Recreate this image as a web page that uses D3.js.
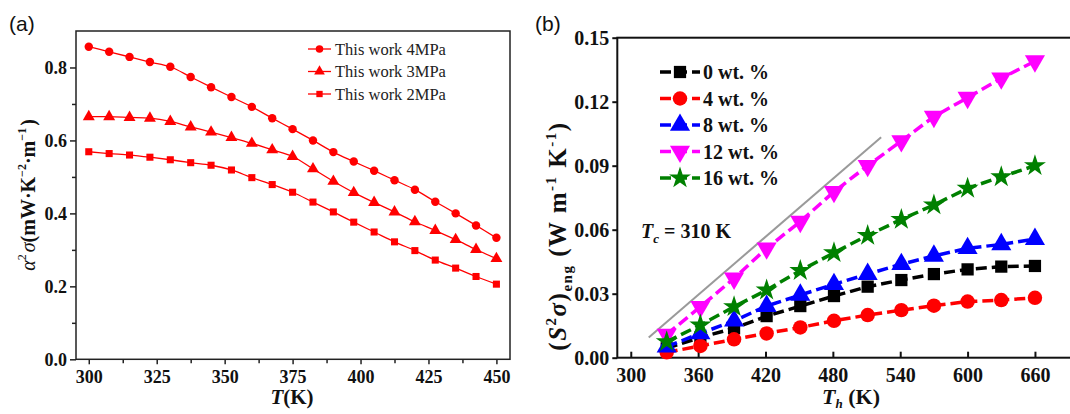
<!DOCTYPE html>
<html>
<head>
<meta charset="utf-8">
<script src="https://cdn.jsdelivr.net/npm/d3@7"></script>
<style>
  html, body { margin: 0; padding: 0; background: #fff; }
  svg { display: block; }
  svg text { font-family: "Liberation Serif", "Times New Roman", "DejaVu Serif", serif; }
  svg text.sans { font-family: "Liberation Sans", Arial, sans-serif; }
</style>
</head>
<body>
<svg id="chart" width="1070" height="414"></svg>
<script>
// ---------- panel (a): power factor vs temperature ----------
const aTemps = [300, 307.5, 315, 322.5, 330, 337.5, 345, 352.5, 360, 367.5, 375,
                382.5, 390, 397.5, 405, 412.5, 420, 427.5, 435, 442.5, 450];
const aPF4 = [0.857, 0.843, 0.829, 0.815, 0.802, 0.774, 0.746, 0.719, 0.692, 0.661, 0.631,
              0.600, 0.568, 0.542, 0.517, 0.491, 0.465, 0.432, 0.400, 0.367, 0.333];
const aPF3 = [0.665, 0.665, 0.663, 0.661, 0.652, 0.637, 0.623, 0.608, 0.592, 0.574, 0.556,
              0.522, 0.488, 0.457, 0.430, 0.404, 0.377, 0.353, 0.328, 0.301, 0.276];
const aPF2 = [0.569, 0.564, 0.560, 0.554, 0.547, 0.539, 0.532, 0.519, 0.498, 0.479, 0.458,
              0.431, 0.404, 0.376, 0.349, 0.322, 0.298, 0.272, 0.250, 0.227, 0.206];
const aNames = ["This work 4MPa", "This work 3MPa", "This work 2MPa"];
const aXTicks = [300, 325, 350, 375, 400, 425, 450];
const aYTicks = [0.0, 0.2, 0.4, 0.6, 0.8];

// ---------- panel (b): engineering power factor vs hot-side temperature ----------
const bTemps = [332, 362, 392, 421, 451, 481, 511, 541, 570, 600, 630, 660];
const b0  = [0.0044, 0.0095, 0.0138, 0.0195, 0.0242, 0.0289, 0.0333, 0.0364, 0.0392, 0.0414, 0.0427, 0.0430];
const b4  = [0.0025, 0.0055, 0.0086, 0.0114, 0.0142, 0.0173, 0.0200, 0.0223, 0.0244, 0.0263, 0.0270, 0.0281];
const b8  = [0.0052, 0.0114, 0.0173, 0.0242, 0.0294, 0.0344, 0.0392, 0.0438, 0.0477, 0.0513, 0.0531, 0.0556];
const b12 = [0.0109, 0.0239, 0.0372, 0.0513, 0.0638, 0.0778, 0.0900, 0.1016, 0.1130, 0.1219, 0.1310, 0.1390];
const b16 = [0.0075, 0.0153, 0.0239, 0.0317, 0.0408, 0.0492, 0.0573, 0.0648, 0.0716, 0.0794, 0.0848, 0.0900];
const bNames = ["0 wt. %", "4 wt. %", "8 wt. %", "12 wt. %", "16 wt. %"];
const bXTicks = [300, 360, 420, 480, 540, 600, 660];
const bYTicks = [0.00, 0.03, 0.06, 0.09, 0.12, 0.15];
const bGuideT = [316, 523];
const bGuideV = [0.0095, 0.1033];

const svg = d3.select("#chart");

// ================= panel (a) =================
const ax = d3.scaleLinear().domain([295.3, 455]).range([76, 510]);
const ay = d3.scaleLinear().domain([0, 0.9]).range([359.3, 31]);
const gA = svg.append("g");

// frame
gA.append("rect").attr("x", 76).attr("y", 31).attr("width", 434).attr("height", 328.3)
  .attr("fill", "none").attr("stroke", "#222").attr("stroke-width", 1.5);

// minor ticks
gA.append("g").attr("transform", "translate(0,359.3)")
  .call(d3.axisBottom(ax).tickValues([312.5, 337.5, 362.5, 387.5, 412.5, 437.5]).tickSize(4).tickFormat(""))
  .call(g => g.select(".domain").remove())
  .selectAll("line").attr("stroke", "#222").attr("stroke-width", 1.5);
gA.append("g").attr("transform", "translate(76,0)")
  .call(d3.axisLeft(ay).tickValues([0.1, 0.3, 0.5, 0.7]).tickSize(4).tickFormat(""))
  .call(g => g.select(".domain").remove())
  .selectAll("line").attr("stroke", "#222").attr("stroke-width", 1.5);

// major ticks
const axB = gA.append("g").attr("transform", "translate(0,359.3)")
  .call(d3.axisBottom(ax).tickValues(aXTicks).tickSize(5).tickPadding(6).tickFormat(d3.format("d")));
const axL = gA.append("g").attr("transform", "translate(76,0)")
  .call(d3.axisLeft(ay).tickValues(aYTicks).tickSize(6).tickPadding(3).tickFormat(d3.format(".1f")));
[axB, axL].forEach(g => {
  g.select(".domain").remove();
  g.selectAll("line").attr("stroke", "#222").attr("stroke-width", 1.5);
  g.attr("font-family", null);
  g.selectAll("text").attr("font-weight", "bold").attr("font-size", 18).attr("fill", "#111");
});

// series
const aSeries = [
  { vals: aPF4, sym: d3.symbolCircle, size: 56 },
  { vals: aPF3, sym: d3.symbolTriangle, size: 62 },
  { vals: aPF2, sym: d3.symbolSquare, size: 50 }
];
const aLine = d3.line().x(d => ax(d[0])).y(d => ay(d[1])).curve(d3.curveCatmullRom.alpha(0.5));
aSeries.forEach(s => {
  const pts = aTemps.map((t, i) => [t, s.vals[i]]);
  gA.append("path").attr("d", aLine(pts)).attr("fill", "none")
    .attr("stroke", "#f00").attr("stroke-width", 1.3);
  gA.selectAll(null).data(pts).enter().append("path")
    .attr("d", d3.symbol().type(s.sym).size(s.size))
    .attr("transform", d => `translate(${ax(d[0])},${ay(d[1])})`)
    .attr("fill", "#f00");
});

// legend (a)
aSeries.forEach((s, i) => {
  const y = 49 + i * 22.5;
  gA.append("line").attr("x1", 308).attr("x2", 331).attr("y1", y).attr("y2", y)
    .attr("stroke", "#f00").attr("stroke-width", 1.3);
  gA.append("path").attr("d", d3.symbol().type(s.sym).size(s.size * 0.8)())
    .attr("transform", `translate(319.5,${y})`).attr("fill", "#f00");
  gA.append("text").attr("x", 335).attr("y", y + 5.5).text(aNames[i])
    .attr("font-size", 16.5).attr("fill", "#222");
});

// axis titles (a)
const aXT = gA.append("text").attr("x", 292).attr("y", 404).attr("text-anchor", "middle")
  .attr("font-size", 21).attr("font-weight", "bold").attr("fill", "#111");
aXT.append("tspan").attr("font-style", "italic").text("T");
aXT.append("tspan").text("(K)");

const aYT = gA.append("text").attr("transform", "translate(35,195) rotate(-90)")
  .attr("text-anchor", "middle").attr("font-size", 20).attr("fill", "#111");
aYT.append("tspan").attr("font-style", "italic").text("α");
aYT.append("tspan").attr("font-size", 12).attr("dy", -9).text("2");
aYT.append("tspan").attr("font-style", "italic").attr("dy", 9).attr("dx", 2).text("σ");
aYT.append("tspan").attr("font-weight", "bold").text("(mW·K");
aYT.append("tspan").attr("font-size", 12).attr("font-weight", "bold").attr("dy", -9).text("−2");
aYT.append("tspan").attr("font-weight", "bold").attr("dy", 9).text("·m");
aYT.append("tspan").attr("font-size", 12).attr("font-weight", "bold").attr("dy", -9).text("−1");
aYT.append("tspan").attr("font-weight", "bold").attr("dy", 9).attr("dx", 2).text(")");

gA.append("text").attr("class", "sans").attr("x", 9).attr("y", 31).text("(a)")
  .attr("font-size", 21).attr("fill", "#111");

// ================= panel (b) =================
const bx = d3.scaleLinear().domain([288, 693]).range([617.3, 1072]);
const by = d3.scaleLinear().domain([0, 0.15]).range([357.7, 37.7]);
const gB = svg.append("g");

gB.append("rect").attr("x", 617.3).attr("y", 37.7).attr("width", 454.7).attr("height", 320)
  .attr("fill", "none").attr("stroke", "#111").attr("stroke-width", 2);

const bxB = gB.append("g").attr("transform", "translate(0,357.7)")
  .call(d3.axisBottom(bx).tickValues(bXTicks).tickSize(-6).tickPadding(10).tickFormat(d3.format("d")));
const byL = gB.append("g").attr("transform", "translate(617.3,0)")
  .call(d3.axisLeft(by).tickValues(bYTicks).tickSize(5).tickPadding(3).tickFormat(d3.format(".2f")));
[bxB, byL].forEach(g => {
  g.select(".domain").remove();
  g.selectAll("line").attr("stroke", "#111").attr("stroke-width", 2);
  g.attr("font-family", null);
  g.selectAll("text").attr("font-weight", "bold").attr("font-size", 20).attr("fill", "#111");
});

// guide line
gB.append("line")
  .attr("x1", bx(bGuideT[0])).attr("y1", by(bGuideV[0]))
  .attr("x2", bx(bGuideT[1])).attr("y2", by(bGuideV[1]))
  .attr("stroke", "#9a9a9a").attr("stroke-width", 2);

const invTri = {
  draw(ctx, size) {
    const y = -Math.sqrt(size / (Math.sqrt(3) * 3));
    ctx.moveTo(0, -y * 2);
    ctx.lineTo(-Math.sqrt(3) * y, y);
    ctx.lineTo(Math.sqrt(3) * y, y);
    ctx.closePath();
  }
};
const bSeries = [
  { vals: b0,  color: "#000000", sym: d3.symbolSquare, size: 150 },
  { vals: b4,  color: "#ff0000", sym: d3.symbolCircle, size: 165 },
  { vals: b8,  color: "#0000ff", sym: d3.symbolTriangle, size: 175 },
  { vals: b12, color: "#ff00ff", sym: invTri, size: 175 },
  { vals: b16, color: "#008000", sym: d3.symbolStar, size: 150 }
];
const bLine = d3.line().x(d => bx(d[0])).y(d => by(d[1]));
bSeries.forEach(s => {
  const pts = bTemps.map((t, i) => [t, s.vals[i]]);
  gB.append("path").attr("d", bLine(pts)).attr("fill", "none")
    .attr("stroke", s.color).attr("stroke-width", 3.5).attr("stroke-dasharray", "11,5");
  gB.selectAll(null).data(pts).enter().append("path")
    .attr("d", d3.symbol().type(s.sym).size(s.size))
    .attr("transform", d => `translate(${bx(d[0])},${by(d[1])})`)
    .attr("fill", s.color);
});

// legend (b)
bSeries.forEach((s, i) => {
  const y = 72 + i * 26.5;
  gB.append("line").attr("x1", 660).attr("x2", 700).attr("y1", y).attr("y2", y)
    .attr("stroke", s.color).attr("stroke-width", 3.5).attr("stroke-dasharray", "11,5");
  gB.append("path").attr("d", d3.symbol().type(s.sym).size(s.size)())
    .attr("transform", `translate(680,${y})`).attr("fill", s.color);
  gB.append("text").attr("x", 703).attr("y", y + 7).text(bNames[i])
    .attr("font-weight", "bold").attr("font-size", 20).attr("fill", "#111");
});

// annotation
const tc = gB.append("text").attr("x", 641).attr("y", 238)
  .attr("font-weight", "bold").attr("font-size", 20).attr("fill", "#111");
tc.append("tspan").attr("font-style", "italic").text("T");
tc.append("tspan").attr("font-style", "italic").attr("font-size", 13).attr("dy", 5).text("c");
tc.append("tspan").attr("dy", -5).text(" = 310 K");

// axis titles (b)
const bXT = gB.append("text").attr("x", 851).attr("y", 404).attr("text-anchor", "middle")
  .attr("font-weight", "bold").attr("font-size", 22).attr("fill", "#111");
bXT.append("tspan").attr("font-style", "italic").text("T");
bXT.append("tspan").attr("font-style", "italic").attr("font-size", 13).attr("dy", 4).text("h");
bXT.append("tspan").attr("dy", -4).text(" (K)");

const bYT = gB.append("text").attr("transform", "translate(566,236) rotate(-90)")
  .attr("text-anchor", "middle").attr("font-weight", "bold")
  .attr("font-size", 25).attr("letter-spacing", 1.5).attr("fill", "#111");
bYT.append("tspan").text("(");
bYT.append("tspan").attr("font-style", "italic").text("S");
bYT.append("tspan").attr("font-size", 15).attr("dy", -10).text("2");
bYT.append("tspan").attr("font-style", "italic").attr("dy", 10).text("σ");
bYT.append("tspan").text(")");
bYT.append("tspan").attr("font-size", 15).attr("dy", 6).text("eng");
bYT.append("tspan").attr("dy", -6).text(" (W m");
bYT.append("tspan").attr("font-size", 15).attr("dy", -10).text("-1");
bYT.append("tspan").attr("dy", 10).text(" K");
bYT.append("tspan").attr("font-size", 15).attr("dy", -10).text("-1");
bYT.append("tspan").attr("dy", 10).text(")");

gB.append("text").attr("class", "sans").attr("x", 535).attr("y", 31).text("(b)")
  .attr("font-size", 21).attr("fill", "#111");
</script>
</body>
</html>
